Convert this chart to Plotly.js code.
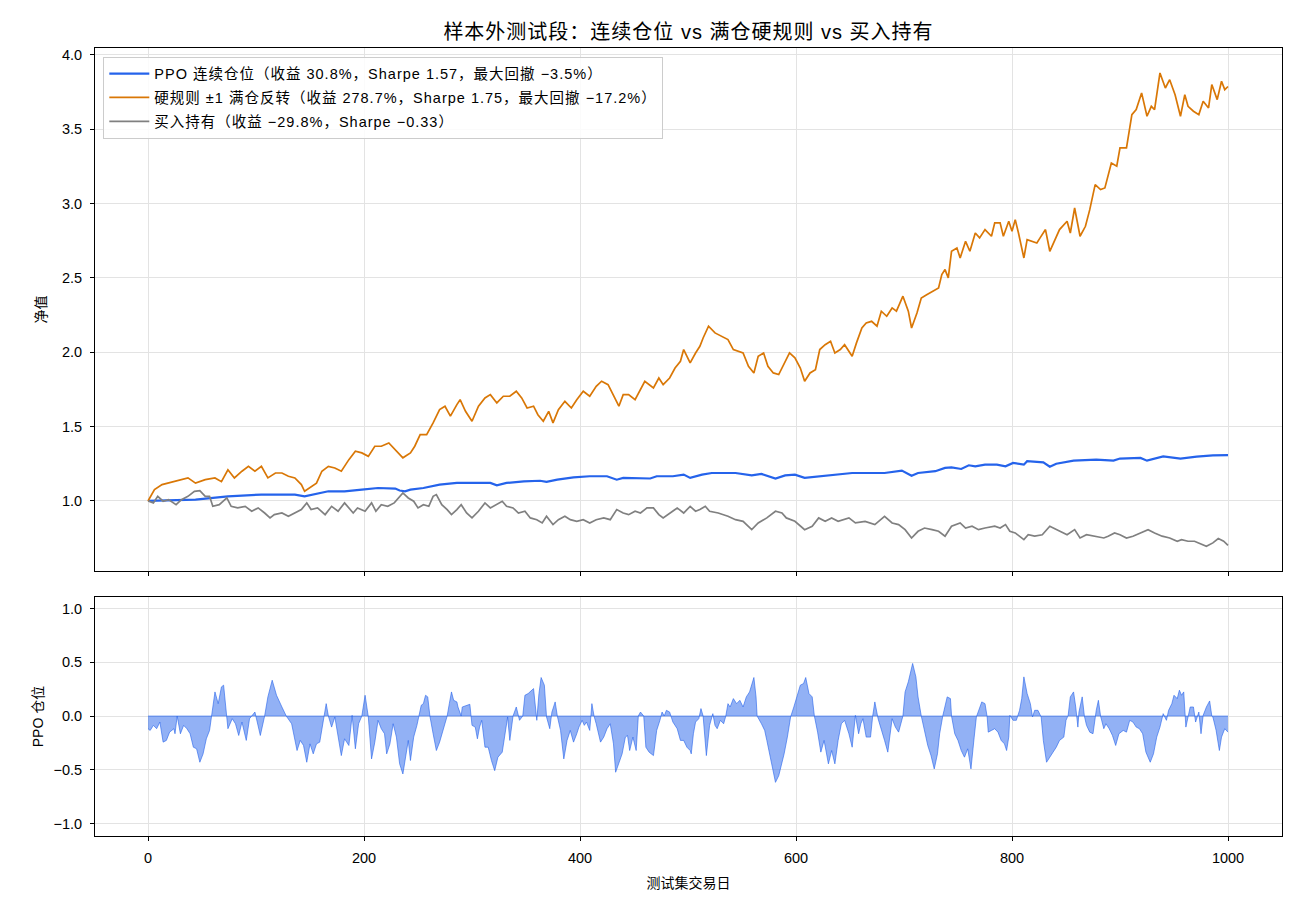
<!DOCTYPE html>
<html>
<head>
<meta charset="utf-8">
<script src="https://cdn.plot.ly/plotly-3.0.1.min.js"></script>
<style>
  html, body { margin: 0; padding: 0; background: #fff; }
  #chart { width: 1300px; height: 910px; }
  /* 图例与标题字距略放宽（测量文本宽度时同样生效） */
  .legendtext { letter-spacing: 1px; }
  .gtitle { letter-spacing: 1px; }
</style>
</head>
<body>
<div id="chart"></div>
<script>
// 硬规则 ±1 满仓反转 —— 净值
const ruleDays = [0,6,13,25,37,44,53,62,68,74,80,87,93,99,105,111,118,124,130,136,142,145,152,156,161,167,173,179,186,192,198,204,210,216,223,229,
  236,243,247,252,258,264,270,275,280,286,289,294,300,306,312,317,323,329,335,341,346,351,357,361,366,371,375,380,386,392,397,403,409,415,420,426,431,436,440,445,451,456,460,468,473,477,483,488,493,496,
  502,507,511,514,519,525,531,537,542,547,551,556,561,565,570,574,579,584,590,594,599,604,608,613,618,622,627,632,636,641,645,652,656,661,665,670,675,679,684,689,693,699,704,707,712,716,721,727,732,735,738,741,744,749,752,757,761,766,770,775,
  781,784,789,792,797,800,803,806,811,814,818,823,826,831,835,840,844,851,854,858,863,868,872,877,882,886,889,892,897,900,906,911,915,920,925,929,932,937,942,946,951,956,960,963,968,973,977,982,985,990,994,997,1000];
const ruleNav = [1.000,1.076,1.110,1.130,1.155,1.120,1.143,1.155,1.130,1.210,1.155,1.200,1.233,1.200,1.233,1.155,1.188,1.188,1.166,1.155,1.110,1.065,1.099,1.120,1.200,1.233,1.222,1.200,1.278,1.334,1.323,1.300,1.368,1.368,1.390,1.345,
  1.290,1.323,1.368,1.446,1.446,1.525,1.614,1.637,1.570,1.648,1.681,1.603,1.536,1.637,1.693,1.715,1.659,1.704,1.704,1.738,1.693,1.625,1.637,1.580,1.536,1.603,1.525,1.614,1.670,1.625,1.681,1.738,1.704,1.771,1.805,1.782,1.704,1.637,1.715,1.715,1.681,1.749,1.805,1.760,1.827,1.782,1.827,1.894,1.939,2.018,
  1.928,1.995,2.040,2.096,2.175,2.130,2.108,2.085,2.018,2.007,1.995,1.906,1.861,1.973,1.995,1.906,1.861,1.850,1.939,1.995,1.962,1.894,1.805,1.861,1.883,2.018,2.051,2.074,1.995,2.018,2.051,1.973,2.063,2.163,2.197,2.208,2.175,2.276,2.242,2.298,2.276,2.377,2.276,2.163,2.264,2.365,2.387,2.410,2.432,2.522,2.556,2.500,2.679,2.701,2.634,2.746,2.679,2.802,2.769,2.825,
  2.780,2.870,2.870,2.780,2.881,2.814,2.892,2.802,2.634,2.757,2.746,2.735,2.769,2.825,2.679,2.757,2.825,2.881,2.802,2.970,2.780,2.847,2.959,3.127,3.094,3.105,3.194,3.273,3.251,3.374,3.374,3.598,3.632,3.744,3.587,3.654,3.632,3.878,3.777,3.833,3.732,3.587,3.732,3.654,3.621,3.598,3.688,3.643,3.800,3.699,3.822,3.766,3.787];

// PPO 连续仓位 —— 净值
const ppoDays = [0,44,74,105,136,145,167,182,198,213,229,233,238,243,255,270,286,301,317,323,332,348,363,369,379,394,409,425,434,440,456,465,471,486,496,502,513,522,544,559,568,581,590,599,608,621,636,652,667,682,698,707,713,729,738,744,753,760,766,775,786,794,801,811,814,829,835,841,857,878,894,900,919,925,940,956,971,986,1000];
const ppoNav = [1.000,1.009,1.031,1.043,1.043,1.031,1.065,1.065,1.076,1.087,1.083,1.070,1.065,1.076,1.087,1.110,1.121,1.121,1.121,1.105,1.121,1.132,1.136,1.128,1.143,1.159,1.166,1.166,1.143,1.155,1.155,1.151,1.166,1.166,1.177,1.155,1.177,1.188,1.188,1.172,1.182,1.151,1.172,1.177,1.155,1.166,1.177,1.188,1.188,1.188,1.204,1.170,1.188,1.200,1.222,1.226,1.215,1.240,1.233,1.244,1.244,1.233,1.256,1.244,1.267,1.260,1.230,1.250,1.271,1.278,1.271,1.285,1.289,1.271,1.300,1.285,1.298,1.307,1.308];

// 买入持有 —— 净值
const bhDays = [0,5,9,14,19,26,31,37,43,48,53,57,60,66,73,77,83,90,96,102,108,113,117,124,130,136,142,147,151,157,164,170,176,182,190,194,201,207,211,216,222,228,
  233,236,241,246,250,255,260,264,267,272,277,281,286,290,295,300,306,312,317,323,328,332,338,343,349,354,360,365,369,375,380,386,391,397,403,409,415,422,428,434,440,445,451,456,462,468,473,477,483,490,496,502,
  507,511,516,520,528,537,544,551,559,565,573,581,587,591,599,608,615,621,627,633,639,649,655,664,673,682,689,695,701,707,713,719,726,732,738,744,752,757,763,769,775,
  784,789,794,798,803,811,815,821,828,835,841,851,858,863,869,877,885,889,895,900,906,912,919,926,932,939,946,953,957,963,969,976,980,986,991,996,1000];
const bhNav = [1.000,0.987,1.031,0.998,1.009,0.975,1.009,1.031,1.065,1.070,1.031,1.031,0.964,0.975,1.020,0.964,0.953,0.964,0.931,0.953,0.919,0.886,0.908,0.919,0.897,0.919,0.942,0.987,0.942,0.953,0.908,0.964,0.931,0.987,0.919,0.953,0.931,0.987,0.931,0.975,0.964,0.987,
  1.031,1.054,1.020,0.998,0.953,0.975,0.964,1.031,1.043,0.975,0.942,0.908,0.942,0.975,0.919,0.886,0.931,0.987,0.953,0.975,0.998,0.964,0.953,0.919,0.931,0.886,0.874,0.852,0.897,0.841,0.874,0.897,0.874,0.863,0.874,0.852,0.874,0.886,0.874,0.942,0.919,0.908,0.931,0.919,0.953,0.953,0.908,0.886,0.919,0.953,0.919,0.964,
  0.931,0.942,0.964,0.931,0.919,0.897,0.874,0.863,0.807,0.852,0.886,0.931,0.919,0.886,0.863,0.807,0.830,0.886,0.863,0.886,0.863,0.886,0.852,0.863,0.841,0.897,0.852,0.841,0.807,0.751,0.796,0.818,0.807,0.796,0.763,0.830,0.852,0.818,0.830,0.807,0.818,
  0.830,0.818,0.841,0.796,0.785,0.740,0.773,0.763,0.773,0.830,0.807,0.773,0.807,0.751,0.773,0.763,0.751,0.763,0.785,0.773,0.751,0.763,0.785,0.807,0.785,0.763,0.751,0.729,0.740,0.729,0.729,0.706,0.695,0.718,0.747,0.729,0.702];

// PPO 每日仓位
const posDays = [0,2,5,8,11,14,17,20,24,25,27,30,33,36,39,42,45,48,51,54,57,59,62,65,68,70,73,74,78,81,84,87,91,94,99,104,108,111,115,119,124,128,133,136,138,141,144,147,150,153,156,159,162,165,167,170,173,176,179,182,186,189,192,195,198,201,204,207,210,213,216,219,221,224,227,
  230,233,236,240,241,243,246,249,251,253,255,257,259,261,264,267,270,274,277,279,281,283,286,287,290,291,296,298,300,303,305,307,309,312,315,318,321,324,328,331,333,335,338,341,343,344,347,349,352,355,357,360,362,364,367,369,372,374,377,379,382,385,388,391,394,397,399,402,404,406,409,411,413,415,419,422,425,428,431,433,436,439,442,444,446,449,452,454,456,459,461,464,468,471,474,476,478,480,483,486,490,493,496,499,502,
  503,505,507,510,512,514,517,520,523,525,527,530,533,535,537,539,542,545,548,551,554,557,561,563,564,568,571,573,576,579,581,584,587,589,592,595,598,601,604,607,609,612,615,617,620,623,626,630,633,636,639,642,645,649,652,655,658,660,662,665,669,671,673,676,679,682,685,687,689,692,695,699,701,704,707,708,711,713,716,719,722,725,728,731,733,736,738,740,743,744,747,750,753,756,759,762,765,767,772,775,
  777,778,781,784,787,790,793,795,797,798,801,804,807,809,811,814,817,819,821,824,827,829,832,835,838,841,844,848,850,852,854,857,859,861,862,865,867,869,872,875,878,880,882,885,887,890,893,896,899,903,906,909,912,915,918,921,924,926,928,931,934,937,940,943,945,948,950,953,955,957,959,961,963,965,968,970,973,975,977,980,983,985,986,989,992,994,997,1000];
const posValue = [-0.118,-0.134,-0.087,-0.118,-0.056,-0.243,-0.227,-0.150,-0.118,-0.165,0.000,-0.165,-0.087,-0.118,-0.165,-0.290,-0.305,-0.430,-0.352,-0.212,-0.134,0.000,0.224,0.115,0.271,0.287,0.000,-0.118,-0.025,-0.072,-0.181,-0.056,-0.227,-0.025,0.037,-0.181,0.000,0.178,0.333,0.193,0.084,0.000,-0.072,-0.227,-0.321,-0.227,-0.274,-0.430,-0.259,-0.352,-0.259,-0.243,-0.072,0.115,0.000,-0.103,-0.009,-0.181,-0.368,-0.212,-0.274,0.006,-0.305,-0.072,0.000,0.193,-0.009,-0.399,-0.243,-0.040,-0.118,-0.165,-0.352,-0.259,-0.072,
  -0.196,-0.445,-0.539,-0.290,-0.227,-0.414,-0.196,-0.087,0.000,0.100,0.115,0.193,0.178,0.000,-0.165,-0.321,-0.243,-0.103,0.000,0.115,0.224,0.146,0.131,0.084,0.000,0.084,0.100,0.109,-0.087,-0.103,-0.212,-0.103,-0.040,-0.290,-0.290,-0.414,-0.508,-0.383,-0.336,-0.134,-0.009,-0.227,0.000,0.084,0.000,-0.040,0.000,0.193,0.209,0.240,0.255,-0.040,0.209,0.358,0.287,-0.009,-0.118,0.037,0.131,0.000,-0.134,-0.399,-0.227,-0.134,-0.243,-0.165,-0.103,-0.040,-0.087,-0.056,-0.134,0.115,0.000,-0.072,-0.243,-0.196,-0.118,-0.072,-0.259,-0.523,-0.445,-0.352,-0.196,-0.181,-0.321,-0.196,-0.321,0.000,0.037,0.000,-0.290,-0.336,-0.368,-0.134,-0.040,0.037,0.000,0.053,0.037,-0.056,-0.118,-0.227,-0.227,-0.290,-0.321,
  -0.352,-0.165,-0.056,-0.025,0.069,0.000,-0.368,-0.087,0.022,-0.087,-0.118,-0.040,-0.072,0.000,0.115,0.084,0.162,0.115,0.146,0.084,0.178,0.224,0.358,0.178,0.000,-0.072,-0.134,-0.227,-0.383,-0.539,-0.617,-0.555,-0.430,-0.352,-0.196,-0.009,0.084,0.193,0.287,0.302,0.358,0.209,0.178,0.000,-0.150,-0.336,-0.227,-0.445,-0.321,-0.445,-0.227,-0.072,-0.040,-0.165,-0.290,0.006,-0.165,-0.072,-0.025,-0.196,-0.196,0.000,0.131,-0.025,-0.118,-0.227,-0.336,-0.196,-0.025,-0.103,-0.150,0.000,0.224,0.318,0.427,0.489,0.364,0.178,0.000,-0.134,-0.274,-0.368,-0.492,-0.352,-0.165,0.006,0.084,0.178,0.162,0.000,-0.165,-0.227,-0.321,-0.383,-0.305,-0.492,-0.196,-0.009,0.131,0.115,
  -0.009,-0.150,-0.134,-0.118,-0.150,-0.227,-0.259,-0.321,-0.196,0.006,-0.040,-0.040,0.053,0.162,0.364,0.209,0.115,-0.009,0.053,0.053,-0.009,-0.227,-0.430,-0.383,-0.336,-0.290,-0.227,-0.196,-0.040,0.006,0.178,0.224,0.084,-0.103,0.037,0.178,0.000,-0.087,-0.150,-0.165,0.053,0.146,0.000,-0.118,-0.072,-0.118,-0.181,-0.274,-0.165,-0.134,-0.150,-0.040,-0.056,-0.103,-0.118,-0.165,-0.336,-0.383,-0.430,-0.352,-0.196,-0.103,0.022,-0.040,0.053,0.115,0.193,0.162,0.240,0.193,0.224,-0.103,-0.009,0.084,0.084,-0.056,0.037,-0.165,0.006,0.084,0.140,0.000,-0.009,-0.134,-0.321,-0.196,-0.118,-0.150];

const seriesNames = [
  'PPO 连续仓位（收益 30.8%，Sharpe 1.57，最大回撤 −3.5%）',
  '硬规则 ±1 满仓反转（收益 278.7%，Sharpe 1.75，最大回撤 −17.2%）',
  '买入持有（收益 −29.8%，Sharpe −0.33）'
];

// 拉丁字符用无衬线西文字体，中文回落到 Noto Sans CJK SC
const FONT = '"Liberation Sans", "Noto Sans CJK SC", sans-serif';
const LEGEND_FONT = '"Liberation Sans", "Noto Sans CJK SC", sans-serif';
const BLUE = '#2563eb', ORANGE = '#d97706', GREY = '#808080';

const traces = [
  { x: ppoDays, y: ppoNav, type: 'scatter', mode: 'lines', name: seriesNames[0],
    line: { color: BLUE, width: 2.2 }, xaxis: 'x', yaxis: 'y', legendgroup: 'a' },
  { x: ruleDays, y: ruleNav, type: 'scatter', mode: 'lines', name: seriesNames[1],
    line: { color: ORANGE, width: 1.7 }, xaxis: 'x', yaxis: 'y', legendgroup: 'b' },
  { x: bhDays, y: bhNav, type: 'scatter', mode: 'lines', name: seriesNames[2],
    line: { color: GREY, width: 1.7 }, xaxis: 'x', yaxis: 'y', legendgroup: 'c' },
  // 仓位面积图与零线
  { x: [posDays[0], posDays[posDays.length - 1]], y: [0, 0], type: 'scatter', mode: 'lines',
    line: { color: 'rgba(37,99,235,0.55)', width: 1 }, xaxis: 'x2', yaxis: 'y2', showlegend: false },
  { x: posDays, y: posValue, type: 'scatter', mode: 'lines', fill: 'tozeroy',
    fillcolor: 'rgba(37,99,235,0.5)', line: { color: 'rgba(37,99,235,0.6)', width: 1 },
    xaxis: 'x2', yaxis: 'y2', showlegend: false }
];

const axisCommon = {
  showline: true, mirror: true, linecolor: '#000', linewidth: 1,
  ticks: 'outside', ticklen: 4, tickwidth: 1, tickcolor: '#000',
  showgrid: true, gridcolor: '#e3e3e3', gridwidth: 1, zeroline: false,
  tickfont: { family: FONT, size: 14.5, color: '#000' }, ticklabelstandoff: 5
};

const layout = {
  width: 1300, height: 910,
  paper_bgcolor: '#fff', plot_bgcolor: '#fff',
  margin: { l: 95, r: 18, t: 48, b: 74 },
  font: { family: FONT, color: '#000' },
  title: { text: '样本外测试段：连续仓位 vs 满仓硬规则 vs 买入持有',
    font: { family: FONT, size: 20, color: '#000' }, xref: 'paper', x: 0.5, xanchor: 'center', y: 0.965, yanchor: 'middle' },
  showlegend: true,
  legend: { x: 0.007, y: 0.989, xanchor: 'left', yanchor: 'top',
    bgcolor: 'rgba(255,255,255,0.85)', bordercolor: '#cccccc', borderwidth: 1,
    font: { family: LEGEND_FONT, size: 14.5, color: '#000' }, traceorder: 'grouped', tracegroupgap: 2,
    itemwidth: 40 },
  xaxis: Object.assign({}, axisCommon, {
    domain: [0, 1], anchor: 'y', range: [-49.07, 1050], tickvals: [0, 200, 400, 600, 800, 1000],
    showticklabels: false, matches: 'x2' }),
  yaxis: Object.assign({}, axisCommon, {
    domain: [0.3363, 1], anchor: 'x', range: [0.529, 4.046],
    tickvals: [1.0, 1.5, 2.0, 2.5, 3.0, 3.5, 4.0], tickformat: '.1f',
    title: { text: '净值', font: { family: FONT, size: 14, color: '#000' }, standoff: 12 } }),
  xaxis2: Object.assign({}, axisCommon, {
    domain: [0, 1], anchor: 'y2', range: [-49.07, 1050], tickvals: [0, 200, 400, 600, 800, 1000],
    title: { text: '测试集交易日', font: { family: FONT, size: 14, color: '#000' }, standoff: 12 } }),
  yaxis2: Object.assign({}, axisCommon, {
    domain: [0, 0.3033], anchor: 'x2', range: [-1.116, 1.107],
    tickvals: [-1.0, -0.5, 0.0, 0.5, 1.0], tickformat: '.1f',
    title: { text: 'PPO 仓位', font: { family: FONT, size: 14, color: '#000' }, standoff: 6 } })
};

Plotly.newPlot('chart', traces, layout, { staticPlot: true, displayModeBar: false });
</script>
</body>
</html>
